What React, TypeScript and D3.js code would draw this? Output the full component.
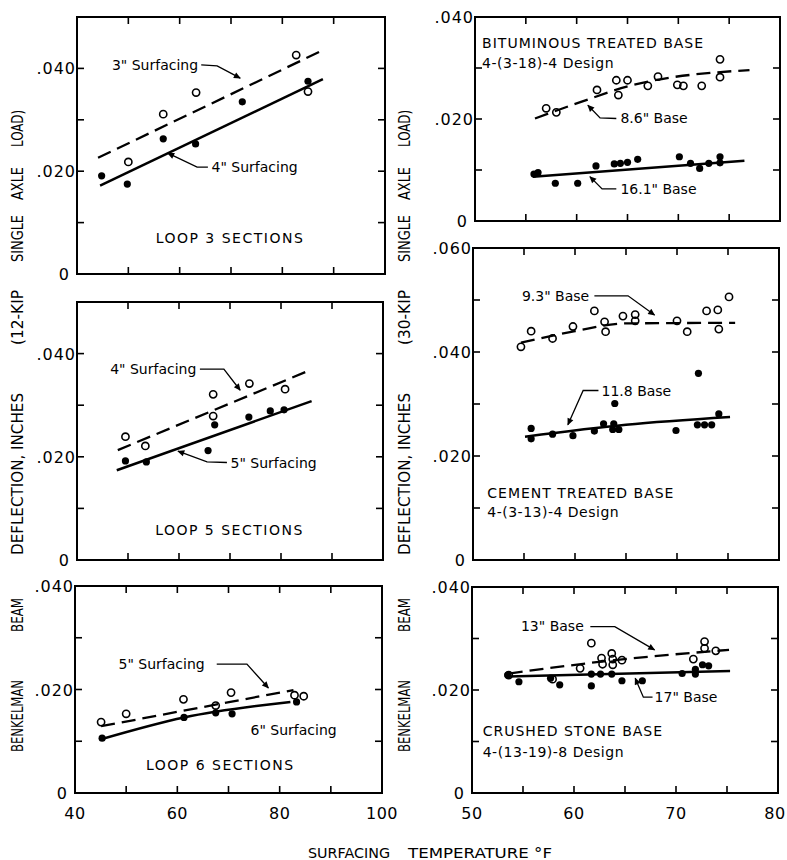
import React from "react";
import * as d3 from "d3";

type Pt = [number, number];

// ---- data: [surfacing temperature °F, deflection in.] ----
// Loop 3 sections
const loop3Open: Pt[] = [[50.0, 0.0218], [56.8, 0.0311], [63.2, 0.0353], [82.7, 0.0426], [85.0, 0.0355]];
const loop3Filled: Pt[] = [[44.8, 0.0191], [49.8, 0.0175], [56.8, 0.0263], [63.1, 0.0253], [72.2, 0.0335], [85.0, 0.0375]];
const loop3Dashed: Pt[] = [[44.1, 0.0226], [87.6, 0.0434]];
const loop3Solid: Pt[] = [[44.5, 0.0172], [87.9, 0.0379]];

// Loop 5 sections
const loop5Open: Pt[] = [[49.5, 0.0239], [53.4, 0.0221], [66.7, 0.0321], [66.7, 0.0279], [73.8, 0.0342], [80.8, 0.0331]];
const loop5Filled: Pt[] = [[49.5, 0.0192], [53.6, 0.019], [65.7, 0.0212], [67.0, 0.0262], [73.7, 0.0277], [77.9, 0.0289], [80.6, 0.0291]];
const loop5Dashed: Pt[] = [[48.0, 0.0213], [85.7, 0.0368]];
const loop5Solid: Pt[] = [[47.8, 0.0174], [86.0, 0.0308]];

// Loop 6 sections
const loop6Open: Pt[] = [[45.1, 0.0137], [50.0, 0.0153], [61.2, 0.0181], [67.5, 0.0169], [70.5, 0.0194], [82.9, 0.0189], [84.7, 0.0187]];
const loop6Filled: Pt[] = [[45.3, 0.0106], [61.3, 0.0146], [67.5, 0.0155], [70.7, 0.0153], [83.3, 0.0176]];
const loop6Dashed: Pt[] = [[45.1, 0.0129], [82.7, 0.0199]];
const loop6Solid: Pt[] = [[45.1, 0.0104], [61.3, 0.0146], [82.1, 0.0176]];

// Bituminous treated base
const bitOpen: Pt[] = [[57.0, 0.0221], [58.0, 0.0213], [62.0, 0.0257], [63.9, 0.0276], [64.1, 0.0247], [65.0, 0.0276], [67.0, 0.0265],
  [68.0, 0.0283], [69.9, 0.0267], [70.5, 0.0265], [72.3, 0.0265], [74.1, 0.0317], [74.1, 0.0282]];
const bitFilled: Pt[] = [[55.8, 0.0092], [56.2, 0.0095], [57.9, 0.0074], [60.1, 0.0074], [61.9, 0.0108], [63.7, 0.0112], [64.3, 0.0113],
  [65.0, 0.0115], [66.0, 0.0121], [70.1, 0.0126], [71.2, 0.0113], [72.1, 0.0103], [73.0, 0.0113], [74.1, 0.0126], [74.1, 0.0114]];
const bitDashed: Pt[] = [[55.9, 0.0201], [60.5, 0.0234], [65.2, 0.0265], [77.0, 0.0296]];
const bitSolid: Pt[] = [[55.7, 0.0087], [76.5, 0.0118]];

// Cement treated base
const cemOpen: Pt[] = [[54.7, 0.041], [55.7, 0.044], [57.8, 0.0426], [59.8, 0.0449], [61.9, 0.0479], [62.9, 0.0458], [63.0, 0.0439],
  [64.7, 0.0469], [65.9, 0.0472], [65.9, 0.046], [70.0, 0.046], [71.0, 0.0439], [72.9, 0.0479], [74.0, 0.0481], [74.1, 0.0444], [75.1, 0.0506]];
const cemFilled: Pt[] = [[55.7, 0.0253], [55.7, 0.0233], [57.8, 0.0242], [59.8, 0.0239], [61.9, 0.0248], [62.8, 0.0262], [63.8, 0.0262],
  [63.9, 0.0301], [63.7, 0.0251], [64.3, 0.0251], [69.9, 0.0249], [72.1, 0.0359], [72.0, 0.026], [72.7, 0.026], [73.4, 0.026], [74.1, 0.0281]];
const cemDashed: Pt[] = [[54.7, 0.0418], [60.0, 0.044], [65.0, 0.0455], [75.7, 0.0456]];
const cemSolid: Pt[] = [[55.1, 0.0237], [65.0, 0.026], [75.2, 0.0275]];

// Crushed stone base
const csOpen: Pt[] = [[53.6, 0.0229], [57.9, 0.0221], [60.6, 0.0242], [61.7, 0.0291], [62.7, 0.0262], [62.8, 0.025], [63.7, 0.0271],
  [63.8, 0.026], [63.8, 0.0249], [64.7, 0.0258], [71.7, 0.026], [72.8, 0.0294], [72.8, 0.0281], [73.9, 0.0276]];
const csFilled: Pt[] = [[53.5, 0.0229], [54.6, 0.0216], [57.7, 0.0223], [58.6, 0.021], [61.7, 0.0231], [61.7, 0.0208], [62.6, 0.0231],
  [63.7, 0.0231], [64.7, 0.0218], [66.7, 0.0218], [70.6, 0.0232], [71.9, 0.024], [71.9, 0.0231], [72.6, 0.0249], [73.2, 0.0247]];
const csDashed: Pt[] = [[53.6, 0.0232], [64.0, 0.0258], [75.2, 0.0278]];
const csSolid: Pt[] = [[53.4, 0.0226], [75.3, 0.0237]];

const leftXLabels = [40, 60, 80, 100];
const rightXLabels = [50, 60, 70, 80];
const yTitleWords = ["BENKELMAN", "BEAM", "DEFLECTION, INCHES", "(12-KIP", "SINGLE", "AXLE", "LOAD)"];
const yTitleWordsRight = ["BENKELMAN", "BEAM", "DEFLECTION, INCHES", "(30-KIP", "SINGLE", "AXLE", "LOAD)"];

const FONT = "'DejaVu Sans', Arial, sans-serif";
const W = 787;

interface Note {
  text: string;
  at: Pt;
  anchor?: "start" | "middle" | "end";
  size?: number;
  ls?: number;
  leader?: Pt[];
}

interface Panel {
  key: string;
  xDomain: Pt;
  yDomain: Pt;
  xRange: Pt;
  yRange: Pt;
  xTicks: number[];
  yTicks: number[];
  yLabels: number[];
  xLabels: number[];
  open: Pt[];
  filled: Pt[];
  dashed: Pt[];
  solid: Pt[];
  notes: Note[];
}

const panels: Panel[] = [
  {
    key: "loop3", xDomain: [40, 100], yDomain: [0, 0.05], xRange: [77, 385], yRange: [274, 17],
    xTicks: [50, 60, 70, 80, 90], yTicks: [0.01, 0.02, 0.03, 0.04], yLabels: [0, 0.02, 0.04], xLabels: [],
    open: loop3Open, filled: loop3Filled, dashed: loop3Dashed, solid: loop3Solid,
    notes: [
      { text: '3" Surfacing', at: [46.8, 0.0397], leader: [[64.2, 0.0407], [67.3, 0.0405], [71.8, 0.0381]] },
      { text: '4" Surfacing', at: [66.2, 0.0198], leader: [[65.5, 0.0208], [63.4, 0.0208], [57.7, 0.0235]] },
      { text: "LOOP 3 SECTIONS", at: [69.8, 0.006], anchor: "middle", ls: 1.5 },
    ],
  },
  {
    key: "loop5", xDomain: [40, 100], yDomain: [0, 0.05], xRange: [77, 383], yRange: [560, 302],
    xTicks: [50, 60, 70, 80, 90], yTicks: [0.01, 0.02, 0.03, 0.04], yLabels: [0, 0.02, 0.04], xLabels: [],
    open: loop5Open, filled: loop5Filled, dashed: loop5Dashed, solid: loop5Solid,
    notes: [
      { text: '4" Surfacing', at: [46.5, 0.036], leader: [[64.1, 0.037], [68.8, 0.037], [72.0, 0.0329]] },
      { text: '5" Surfacing', at: [70.1, 0.0178], leader: [[69.4, 0.0189], [65.5, 0.019], [59.8, 0.0211]] },
      { text: "LOOP 5 SECTIONS", at: [69.9, 0.0048], anchor: "middle", ls: 1.5 },
    ],
  },
  {
    key: "loop6", xDomain: [40, 100], yDomain: [0, 0.04], xRange: [75, 382], yRange: [793, 586],
    xTicks: [50, 60, 70, 80, 90], yTicks: [0.01, 0.02, 0.03], yLabels: [0, 0.02, 0.04], xLabels: leftXLabels,
    open: loop6Open, filled: loop6Filled, dashed: loop6Dashed, solid: loop6Solid,
    notes: [
      { text: '5" Surfacing', at: [48.5, 0.024], leader: [[67.7, 0.0249], [73.6, 0.0249], [77.8, 0.0203]] },
      { text: '6" Surfacing', at: [74.3, 0.0112] },
      { text: "LOOP 6 SECTIONS", at: [68.4, 0.0044], anchor: "middle", ls: 1.5 },
    ],
  },
  {
    key: "bit", xDomain: [50, 80], yDomain: [0, 0.04], xRange: [475, 780], yRange: [221, 17],
    xTicks: [55, 60, 65, 70, 75], yTicks: [0.01, 0.02, 0.03], yLabels: [0, 0.02, 0.04], xLabels: [],
    open: bitOpen, filled: bitFilled, dashed: bitDashed, solid: bitSolid,
    notes: [
      { text: "BITUMINOUS TREATED BASE", at: [50.7, 0.0339], ls: 1 },
      { text: "4-(3-18)-4 Design", at: [50.7, 0.03], ls: 0.5 },
      { text: '8.6" Base', at: [64.3, 0.0192], leader: [[63.9, 0.0201], [62.3, 0.0202], [61.1, 0.0227]] },
      { text: '16.1" Base', at: [64.3, 0.0053], leader: [[63.9, 0.0063], [62.5, 0.0063], [61.3, 0.0087]] },
    ],
  },
  {
    key: "cem", xDomain: [50, 80], yDomain: [0, 0.06], xRange: [473, 779], yRange: [560, 248],
    xTicks: [55, 60, 65, 70, 75], yTicks: [0.01, 0.02, 0.03, 0.04, 0.05], yLabels: [0, 0.02, 0.04, 0.06], xLabels: [],
    open: cemOpen, filled: cemFilled, dashed: cemDashed, solid: cemSolid,
    notes: [
      { text: '9.3" Base', at: [54.8, 0.0499], leader: [[61.9, 0.0508], [65.2, 0.0508], [67.8, 0.0471]] },
      { text: "11.8 Base", at: [62.6, 0.0316], leader: [[62.3, 0.0326], [60.8, 0.0326], [59.3, 0.026]] },
      { text: "CEMENT TREATED BASE", at: [51.4, 0.0119], ls: 1 },
      { text: "4-(3-13)-4 Design", at: [51.4, 0.0082], ls: 0.5 },
    ],
  },
  {
    key: "cs", xDomain: [50, 80], yDomain: [0, 0.04], xRange: [472, 778], yRange: [793, 587],
    xTicks: [55, 60, 65, 70, 75], yTicks: [0.01, 0.02, 0.03], yLabels: [0, 0.02, 0.04], xLabels: rightXLabels,
    open: csOpen, filled: csFilled, dashed: csDashed, solid: csSolid,
    notes: [
      { text: '13" Base', at: [54.8, 0.0314], leader: [[61.6, 0.0323], [64.0, 0.0323], [67.9, 0.0278]] },
      { text: '17" Base', at: [67.9, 0.0177], leader: [[67.7, 0.0186], [66.8, 0.0186], [66.0, 0.0223]] },
      { text: "CRUSHED STONE BASE", at: [51.05, 0.0111], ls: 1 },
      { text: "4-(13-19)-8 Design", at: [51.05, 0.0069], ls: 0.5 },
    ],
  },
];

const fmtY = (v: number) => (v === 0 ? "0" : d3.format(".3f")(v).slice(1));

function PanelView({ p }: { p: Panel }) {
  const x = d3.scaleLinear().domain(p.xDomain).range(p.xRange);
  const y = d3.scaleLinear().domain(p.yDomain).range(p.yRange);
  const [x0, x1] = p.xRange;
  const [y0, y1] = p.yRange; // y0 bottom, y1 top
  const tk = 7;
  const lineGen = (pts: Pt[]) =>
    d3.line<Pt>().x((d) => x(d[0])).y((d) => y(d[1])).curve(pts.length > 2 ? d3.curveMonotoneX : d3.curveLinear)(pts) || "";
  const leaderGen = d3.line<Pt>().x((d) => x(d[0])).y((d) => y(d[1]));

  return (
    <g>
      <rect x={x0} y={y1} width={x1 - x0} height={y0 - y1} fill="none" stroke="#000" strokeWidth={2} />
      {p.xTicks.map((t) => (
        <g key={"xt" + t}>
          <line x1={x(t)} x2={x(t)} y1={y0} y2={y0 - tk} stroke="#000" strokeWidth={1.6} />
          <line x1={x(t)} x2={x(t)} y1={y1} y2={y1 + tk} stroke="#000" strokeWidth={1.6} />
        </g>
      ))}
      {p.yTicks.map((t) => (
        <g key={"yt" + t}>
          <line x1={x0} x2={x0 + tk} y1={y(t)} y2={y(t)} stroke="#000" strokeWidth={1.6} />
          <line x1={x1} x2={x1 - tk} y1={y(t)} y2={y(t)} stroke="#000" strokeWidth={1.6} />
        </g>
      ))}
      {p.yLabels.map((t) => (
        <text key={"yl" + t} x={t === 0 ? x0 - 8 : x0 - 1} y={y(t) + 6} textAnchor="end"
          fontFamily={FONT} fontSize={16} letterSpacing={t === 0 ? 0 : 1}>
          {fmtY(t)}
        </text>
      ))}
      {p.xLabels.map((t) => (
        <text key={"xl" + t} x={Math.min(x(t), W - 12)} y={y0 + 26} textAnchor="middle" fontFamily={FONT} fontSize={16}
          letterSpacing={0.5}>
          {t}
        </text>
      ))}
      <path d={lineGen(p.dashed)} fill="none" stroke="#000" strokeWidth={2.3} strokeDasharray="14 7" />
      <path d={lineGen(p.solid)} fill="none" stroke="#000" strokeWidth={2.5} />
      {p.open.map((d, i) => (
        <circle key={"o" + i} cx={x(d[0])} cy={y(d[1])} r={3.6} fill="none" stroke="#000" strokeWidth={1.6} />
      ))}
      {p.filled.map((d, i) => (
        <circle key={"f" + i} cx={x(d[0])} cy={y(d[1])} r={3.6} fill="#000" />
      ))}
      {p.notes.map((n, i) => (
        <g key={"n" + i}>
          {n.leader && (
            <path d={leaderGen(n.leader) || ""} fill="none" stroke="#000" strokeWidth={1.3} markerEnd="url(#arrow)" />
          )}
          <text x={x(n.at[0])} y={y(n.at[1])} textAnchor={n.anchor || "start"} fontFamily={FONT}
            fontSize={n.size || 14} letterSpacing={n.ls || 0}>
            {n.text}
          </text>
        </g>
      ))}
    </g>
  );
}

// word spans along the rotated y titles: [bottom, top] in page pixels
const titleSpans: Pt[] = [[752, 680], [632, 598], [555, 393], [345, 290], [262, 215], [200, 167], [147, 110]];

function YTitle({ cx, words }: { cx: number; words: string[] }) {
  return (
    <g>
      {words.map((w, i) => {
        const [b, t] = titleSpans[i];
        return (
          <text key={w} transform={`translate(${cx + 5.5},${b}) rotate(-90)`} fontFamily={FONT} fontSize={15}
            textLength={b - t} lengthAdjust="spacingAndGlyphs">
            {w}
          </text>
        );
      })}
    </g>
  );
}

export default function App() {
  return (
    <div style={{ position: "absolute", left: 0, top: 0 }}>
      <svg width={W} height={860} style={{ display: "block", background: "#fff" }}>
        <defs>
          <marker id="arrow" viewBox="0 0 10 10" refX={9} refY={5} markerWidth={9} markerHeight={7}
            markerUnits="userSpaceOnUse" orient="auto">
            <path d="M0,0.5 L10,5 L0,9.5 z" fill="#000" />
          </marker>
        </defs>
        {panels.map((p) => (
          <PanelView key={p.key} p={p} />
        ))}
        <YTitle cx={17} words={yTitleWords} />
        <YTitle cx={404} words={yTitleWordsRight} />
        <text x={308} y={858} fontFamily={FONT} fontSize={14} textLength={82} lengthAdjust="spacingAndGlyphs">
          SURFACING
        </text>
        <text x={408} y={858} fontFamily={FONT} fontSize={14} textLength={144} lengthAdjust="spacingAndGlyphs">
          TEMPERATURE °F
        </text>
      </svg>
    </div>
  );
}
